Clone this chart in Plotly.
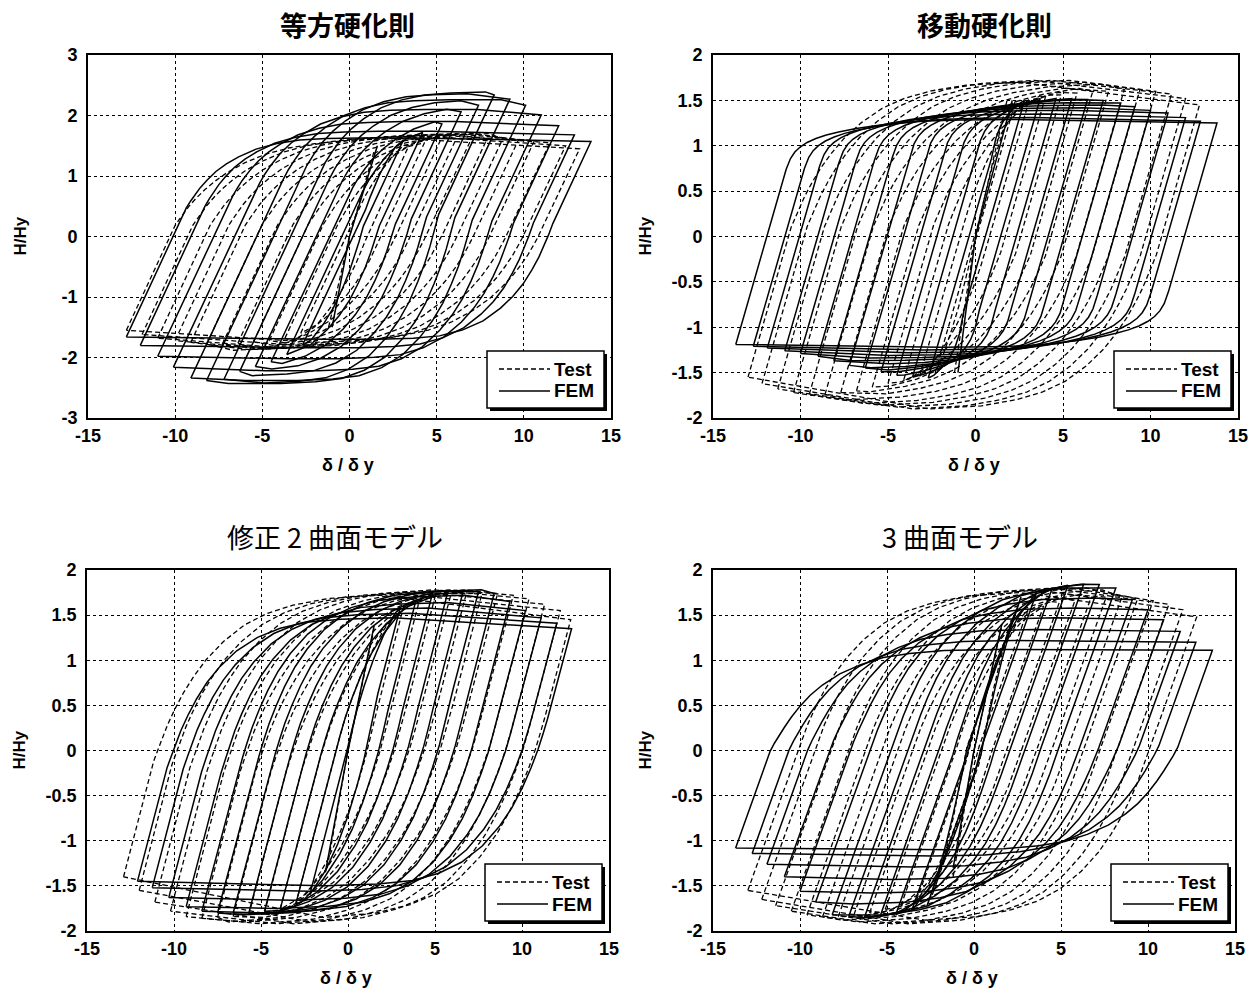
import numpy as np
import plotly.graph_objects as go

W, H = 1257, 995

# ---------------- data ----------------
# branch template: distance (δ/δy) measured from the end of the elastic part
BRANCH_D = [0, 0.25, 0.5, 0.8, 1.2, 1.7, 2.3, 3.0, 4.0, 5.2, 6.5, 8.0, 10.0, 13.0, 40.0]
# fraction of the rise toward the plateau force reached at those distances
F_ISO_FEM = [0, 0.10, 0.19, 0.29, 0.40, 0.52, 0.63, 0.73, 0.84, 0.92, 0.97, 0.99, 1, 1, 1]
F_KIN_FEM = [0, 0.22, 0.35, 0.45, 0.54, 0.62, 0.69, 0.75, 0.82, 0.88, 0.93, 0.97, 0.99, 1, 1]
F_2S_FEM = [0, 0.08, 0.16, 0.25, 0.35, 0.46, 0.57, 0.67, 0.78, 0.87, 0.93, 0.97, 0.99, 1, 1]
F_3S_FEM = [0, 0.08, 0.15, 0.23, 0.33, 0.44, 0.55, 0.65, 0.76, 0.85, 0.92, 0.96, 0.99, 1, 1]
F_TEST = [0, 0.07, 0.14, 0.22, 0.31, 0.41, 0.51, 0.61, 0.72, 0.82, 0.89, 0.94, 0.98, 1, 1]

# ---- 等方硬化則 ----
ISO_FEM_XL = [-12.8, -12.0, -11.0, -10.1, -9.1, -8.2, -7.2, -6.3, -5.4, -4.5, -3.6, -2.7]
ISO_FEM_HL = [-1.66, -1.80, -1.98, -2.16, -2.34, -2.38, -2.36, -2.23, -2.15, -2.07, -1.95, -1.80]
ISO_FEM_XR = [13.85, 12.9, 12.0, 11.0, 10.1, 9.2, 8.3, 7.4, 6.4, 5.3, 4.2, 3.1]
ISO_FEM_HR = [1.57, 1.68, 1.83, 2.01, 2.17, 2.27, 2.34, 2.17, 2.06, 1.86, 1.72, 1.60]
ISO_FEM_PU = [1.63, 1.74, 1.90, 2.10, 2.26, 2.36, 2.39, 2.25, 2.12, 1.92, 1.78, 1.65]
ISO_FEM_PL = [-1.70, -1.84, -2.02, -2.22, -2.38, -2.43, -2.42, -2.30, -2.20, -2.12, -2.00, -1.85]
ISO_FEM_VX = [-1.0, 0.0, 1.6]
ISO_FEM_VH = [-1.5, 0.0, 1.5]

ISO_TEST_XL = [-12.8, -11.9, -11.0, -10.0, -9.1, -8.2, -7.3, -6.4, -5.5, -4.6, -3.7, -2.8]
ISO_TEST_HL = [-1.55, -1.62, -1.68, -1.72, -1.75, -1.78, -1.78, -1.76, -1.74, -1.72, -1.68, -1.60]
ISO_TEST_XR = [13.2, 12.4, 11.5, 10.6, 9.7, 8.8, 7.9, 7.0, 6.1, 5.2, 4.3, 3.4]
ISO_TEST_HR = [1.45, 1.50, 1.55, 1.58, 1.60, 1.62, 1.62, 1.62, 1.60, 1.58, 1.55, 1.50]
ISO_TEST_PU = [1.62, 1.66, 1.68, 1.70, 1.70, 1.70, 1.70, 1.69, 1.68, 1.66, 1.63, 1.58]
ISO_TEST_PL = [-1.75, -1.80, -1.84, -1.86, -1.87, -1.88, -1.88, -1.87, -1.85, -1.82, -1.78, -1.72]
ISO_TEST_VX = [-1.2, 0.0, 1.4]
ISO_TEST_VH = [-1.5, 0.0, 1.4]

# ---- 移動硬化則 ----
KIN_FEM_XL = [-13.7, -12.7, -11.9, -10.9, -10.0, -9.0, -8.1, -7.2, -6.3, -5.4, -4.5, -3.6, -2.7]
KIN_FEM_HL = [-1.19, -1.21, -1.23, -1.26, -1.29, -1.32, -1.37, -1.42, -1.45, -1.49, -1.53, -1.55, -1.56]
KIN_FEM_XR = [13.8, 12.85, 12.0, 11.0, 10.0, 9.1, 8.3, 7.3, 6.4, 5.5, 4.6, 3.7, 2.8]
KIN_FEM_HR = [1.25, 1.27, 1.31, 1.36, 1.39, 1.43, 1.47, 1.50, 1.51, 1.52, 1.52, 1.52, 1.50]
KIN_FEM_PU = [1.29, 1.31, 1.35, 1.39, 1.42, 1.45, 1.48, 1.51, 1.52, 1.52, 1.52, 1.52, 1.50]
KIN_FEM_PL = [-1.22, -1.25, -1.28, -1.31, -1.34, -1.37, -1.41, -1.45, -1.48, -1.51, -1.54, -1.56, -1.57]
KIN_FEM_VX = [-1.0, 0.0, 2.1]
KIN_FEM_VH = [-1.5, 0.0, 1.5]

KIN_TEST_XL = [-13.0, -12.2, -11.3, -10.4, -9.5, -8.6, -7.7, -6.8, -5.9, -5.0, -4.1, -3.2, -2.3]
KIN_TEST_HL = [-1.55, -1.62, -1.68, -1.72, -1.74, -1.74, -1.72, -1.70, -1.66, -1.62, -1.58, -1.54, -1.50]
KIN_TEST_XR = [12.8, 12.0, 11.2, 10.3, 9.4, 8.5, 7.6, 6.7, 5.8, 4.9, 4.0, 3.1, 2.3]
KIN_TEST_HR = [1.45, 1.52, 1.57, 1.60, 1.62, 1.62, 1.60, 1.60, 1.58, 1.56, 1.54, 1.52, 1.50]
KIN_TEST_PU = [1.70, 1.72, 1.72, 1.72, 1.70, 1.68, 1.66, 1.64, 1.62, 1.60, 1.58, 1.56, 1.52]
KIN_TEST_PL = [-1.90, -1.90, -1.88, -1.86, -1.84, -1.80, -1.76, -1.72, -1.68, -1.64, -1.60, -1.56, -1.52]
KIN_TEST_VX = [-1.2, 0.0, 1.8]
KIN_TEST_VH = [-1.5, 0.0, 1.5]

# ---- 修正2曲面モデル ----
S2_FEM_XL = [-12.1, -11.25, -10.3, -9.3, -8.4, -7.5, -6.6, -5.7, -4.8, -3.9, -3.0, -2.2]
S2_FEM_HL = [-1.45, -1.52, -1.63, -1.73, -1.78, -1.80, -1.80, -1.80, -1.78, -1.76, -1.70, -1.60]
S2_FEM_XR = [12.85, 12.0, 11.1, 10.2, 9.3, 8.4, 7.5, 6.6, 5.7, 4.8, 3.9, 3.0]
S2_FEM_HR = [1.35, 1.41, 1.47, 1.55, 1.65, 1.74, 1.76, 1.75, 1.73, 1.70, 1.66, 1.58]
S2_FEM_PU = [1.47, 1.52, 1.58, 1.64, 1.72, 1.78, 1.78, 1.77, 1.75, 1.72, 1.68, 1.60]
S2_FEM_PL = [-1.50, -1.56, -1.66, -1.75, -1.80, -1.82, -1.82, -1.82, -1.80, -1.78, -1.72, -1.62]
S2_FEM_VX = [-1.3, 0.0, 1.5]
S2_FEM_VH = [-1.35, 0.0, 1.38]

S2_TEST_XL = [-12.9, -12.0, -11.1, -10.2, -9.3, -8.4, -7.5, -6.6, -5.7, -4.8, -3.9, -3.0]
S2_TEST_HL = [-1.40, -1.55, -1.68, -1.78, -1.84, -1.86, -1.85, -1.84, -1.82, -1.80, -1.76, -1.70]
S2_TEST_XR = [12.8, 12.2, 11.3, 10.4, 9.5, 8.6, 7.7, 6.8, 5.9, 5.0, 4.1, 3.2]
S2_TEST_HR = [1.45, 1.55, 1.62, 1.68, 1.72, 1.74, 1.74, 1.74, 1.72, 1.70, 1.66, 1.60]
S2_TEST_PU = [1.72, 1.74, 1.76, 1.78, 1.78, 1.78, 1.78, 1.77, 1.76, 1.74, 1.70, 1.64]
S2_TEST_PL = [-1.85, -1.90, -1.92, -1.92, -1.92, -1.90, -1.90, -1.88, -1.86, -1.84, -1.80, -1.74]
S2_TEST_VX = [-1.2, 0.0, 1.5]
S2_TEST_VH = [-1.3, 0.0, 1.35]

# ---- 3曲面モデル ----
S3_FEM_XL = [-13.7, -12.75, -11.9, -10.9, -10.0, -9.1, -8.15, -7.2, -6.3, -5.4, -4.5, -3.6, -2.7]
S3_FEM_HL = [-1.08, -1.14, -1.26, -1.40, -1.56, -1.68, -1.82, -1.84, -1.85, -1.84, -1.82, -1.78, -1.72]
S3_FEM_XR = [13.7, 12.75, 11.85, 10.9, 10.0, 9.1, 8.15, 7.2, 6.3, 5.4, 4.5, 3.6, 2.7]
S3_FEM_HR = [1.11, 1.20, 1.32, 1.45, 1.56, 1.67, 1.80, 1.84, 1.84, 1.83, 1.80, 1.75, 1.70]
S3_FEM_PU = [1.12, 1.22, 1.34, 1.47, 1.58, 1.69, 1.82, 1.85, 1.85, 1.84, 1.81, 1.76, 1.70]
S3_FEM_PL = [-1.10, -1.17, -1.29, -1.43, -1.58, -1.70, -1.84, -1.86, -1.86, -1.85, -1.83, -1.79, -1.73]
S3_FEM_VX = [-1.2, 0.0, 1.6]
S3_FEM_VH = [-1.3, 0.0, 1.4]

S3_TEST_XL = [-13.0, -12.2, -11.4, -10.5, -9.6, -8.7, -7.8, -6.9, -6.0, -5.1, -4.2, -3.3, -2.4]
S3_TEST_HL = [-1.55, -1.65, -1.72, -1.78, -1.82, -1.84, -1.84, -1.82, -1.80, -1.76, -1.72, -1.66, -1.60]
S3_TEST_XR = [12.8, 12.0, 11.2, 10.3, 9.4, 8.5, 7.6, 6.7, 5.8, 4.9, 4.0, 3.1, 2.3]
S3_TEST_HR = [1.48, 1.56, 1.62, 1.66, 1.68, 1.70, 1.70, 1.68, 1.66, 1.64, 1.60, 1.56, 1.50]
S3_TEST_PU = [1.75, 1.78, 1.80, 1.80, 1.80, 1.78, 1.76, 1.74, 1.72, 1.69, 1.65, 1.60, 1.54]
S3_TEST_PL = [-1.88, -1.92, -1.92, -1.92, -1.90, -1.88, -1.86, -1.84, -1.82, -1.78, -1.74, -1.68, -1.62]
S3_TEST_VX = [-1.2, 0.0, 1.6]
S3_TEST_VH = [-1.4, 0.0, 1.4]

# elastic (unloading) stiffness and elastic share of each reversal (loading up, loading down)
ELASTIC_K = {"iso": 0.62, "kin": 0.67, "s2": 0.74, "s3": 0.54}
ELASTIC_E_FEM = {"iso": (0.66, 0.42), "kin": (0.79, 0.76), "s2": (0.45, 0.30), "s3": (0.49, 0.49)}
ELASTIC_E_TEST = {"iso": (0.58, 0.45), "kin": (0.55, 0.55), "s2": (0.45, 0.32), "s3": (0.47, 0.47)}

TITLES = ["等方硬化則", "移動硬化則", "修正 2 曲面モデル", "3 曲面モデル"]
X_TICKS = [-15, -10, -5, 0, 5, 10, 15]
X_TICKTEXT = ["-15", "-10", "-5", "0", "5", "10", "15"]
Y_TICKS_ISO = [-3, -2, -1, 0, 1, 2, 3]
Y_TICKTEXT_ISO = ["-3", "-2", "-1", "0", "1", "2", "3"]
Y_TICKS = [-2, -1.5, -1, -0.5, 0, 0.5, 1, 1.5, 2]
Y_TICKTEXT = ["-2", "-1.5", "-1", "-0.5", "0", "0.5", "1", "1.5", "2"]

# ---------------- geometry helpers ----------------
def branch(x0, h0, x1, h1, plateau, K, E, F):
    s = 1 if x1 > x0 else -1
    hk = h0 + E * (h1 - h0)
    xk = x0 + (hk - h0) / K
    L = s * (x1 - xk)
    if L <= 0.05:
        return [x1], [h1]
    xs, hs = [xk], [hk]
    fend = float(np.interp(L, BRANCH_D, F))
    for d, f in zip(BRANCH_D[1:], F[1:]):
        if d >= L * 0.97:
            break
        xs.append(xk + s * d)
        hs.append(hk + (plateau - hk) * f / fend)
    xs.append(x1)
    hs.append(h1)
    return xs, hs


def loops(XL, HL, XR, HR, PU, PL, VX, VH, K, E, F):
    X, Y = list(VX) + [None], list(VH) + [None]
    for xl, hl, xr, hr, pu, pl in zip(XL, HL, XR, HR, PU, PL):
        X.append(xl); Y.append(hl)
        a, b = branch(xl, hl, xr, hr, pu, K, E[0], F)
        X += a; Y += b
        a, b = branch(xr, hr, xl, hl, pl, K, E[1], F)
        X += a; Y += b
        X.append(None); Y.append(None)
    return X, Y


PANELS = [
    dict(key="iso", F=F_ISO_FEM,
         fem=(ISO_FEM_XL, ISO_FEM_HL, ISO_FEM_XR, ISO_FEM_HR, ISO_FEM_PU, ISO_FEM_PL, ISO_FEM_VX, ISO_FEM_VH),
         test=(ISO_TEST_XL, ISO_TEST_HL, ISO_TEST_XR, ISO_TEST_HR, ISO_TEST_PU, ISO_TEST_PL, ISO_TEST_VX, ISO_TEST_VH)),
    dict(key="kin", F=F_KIN_FEM,
         fem=(KIN_FEM_XL, KIN_FEM_HL, KIN_FEM_XR, KIN_FEM_HR, KIN_FEM_PU, KIN_FEM_PL, KIN_FEM_VX, KIN_FEM_VH),
         test=(KIN_TEST_XL, KIN_TEST_HL, KIN_TEST_XR, KIN_TEST_HR, KIN_TEST_PU, KIN_TEST_PL, KIN_TEST_VX, KIN_TEST_VH)),
    dict(key="s2", F=F_2S_FEM,
         fem=(S2_FEM_XL, S2_FEM_HL, S2_FEM_XR, S2_FEM_HR, S2_FEM_PU, S2_FEM_PL, S2_FEM_VX, S2_FEM_VH),
         test=(S2_TEST_XL, S2_TEST_HL, S2_TEST_XR, S2_TEST_HR, S2_TEST_PU, S2_TEST_PL, S2_TEST_VX, S2_TEST_VH)),
    dict(key="s3", F=F_3S_FEM,
         fem=(S3_FEM_XL, S3_FEM_HL, S3_FEM_XR, S3_FEM_HR, S3_FEM_PU, S3_FEM_PL, S3_FEM_VX, S3_FEM_VH),
         test=(S3_TEST_XL, S3_TEST_HL, S3_TEST_XR, S3_TEST_HR, S3_TEST_PU, S3_TEST_PL, S3_TEST_VX, S3_TEST_VH)),
]

# plot-area frames in pixels: (left, right, top, bottom)
FRAMES = [(88, 611, 55, 418), (713, 1238, 55, 418), (87, 609, 570, 931), (713, 1235, 570, 931)]
TITLE_POS = [(348, 25), (984, 25), (335, 536), (960, 536)]

NUM_FONT = "Liberation Sans Narrow, Arial Narrow, Liberation Sans, Arial, sans-serif"
CJK_FONT = "Noto Sans CJK JP, Noto Sans CJK SC, sans-serif"


def px(x):
    return x / W


def py(y):
    return 1 - y / H


fig = go.Figure()
layout = dict(width=W, height=H, margin=dict(l=0, r=0, t=0, b=0, autoexpand=False),
              paper_bgcolor="white", plot_bgcolor="white", showlegend=False)
shapes, annotations = [], []

for i, p in enumerate(PANELS):
    k = p["key"]
    ax = "" if i == 0 else str(i + 1)
    tx, ty = loops(*p["test"], ELASTIC_K[k], ELASTIC_E_TEST[k], F_TEST)
    fx, fy = loops(*p["fem"], ELASTIC_K[k], ELASTIC_E_FEM[k], p["F"])
    fig.add_trace(go.Scatter(x=tx, y=ty, mode="lines", name="Test",
                             line=dict(color="black", width=1.3, dash="5px,3px"),
                             xaxis="x" + ax, yaxis="y" + ax))
    fig.add_trace(go.Scatter(x=fx, y=fy, mode="lines", name="FEM",
                             line=dict(color="black", width=1.5),
                             xaxis="x" + ax, yaxis="y" + ax))
    L, R, T, B = FRAMES[i]
    common = dict(showline=True, mirror=True, linecolor="black", linewidth=1.8,
                  showgrid=True, gridcolor="black", gridwidth=1, griddash="dot",
                  zeroline=False, ticks="", automargin=False,
                  tickfont=dict(family=NUM_FONT, size=18, color="black", weight="bold"))
    layout["xaxis" + ax] = dict(common, domain=[px(L), px(R)], range=[-15, 15], ticklabelstandoff=0,
                                tickvals=X_TICKS, ticktext=X_TICKTEXT, anchor="y" + ax)
    if k == "iso":
        yt = dict(range=[-3, 3], tickvals=Y_TICKS_ISO, ticktext=Y_TICKTEXT_ISO)
    else:
        yt = dict(range=[-2, 2], tickvals=Y_TICKS, ticktext=Y_TICKTEXT)
    layout["yaxis" + ax] = dict(common, domain=[py(B), py(T)], anchor="x" + ax, ticklabelstandoff=5, **yt)

    # titles and axis labels
    tx0, ty0 = TITLE_POS[i]
    annotations.append(dict(text=TITLES[i], x=px(tx0), y=py(ty0), xref="paper", yref="paper",
                            showarrow=False, xanchor="center", yanchor="middle",
                            font=dict(family=CJK_FONT, size=27, color="black",
                                      weight="bold" if i < 2 else "normal")))
    annotations.append(dict(text="δ / δ y", x=px((L + R) / 2 - 2), y=py(B + 47), xref="paper", yref="paper",
                            showarrow=False, xanchor="center", yanchor="middle",
                            font=dict(family=NUM_FONT, size=18, color="black", weight="bold")))
    annotations.append(dict(text="H/Hy", x=px(L - 68), y=py((T + B) / 2), xref="paper", yref="paper",
                            showarrow=False, xanchor="center", yanchor="middle", textangle=-90,
                            font=dict(family=NUM_FONT, size=17, color="black", weight="bold")))

    # legend box (with drop shadow) in the lower right corner
    bx0, bx1, by0, by1 = R - 124, R - 7, B - 67, B - 10
    shapes.append(dict(type="rect", xref="paper", yref="paper", x0=px(bx0 + 3), x1=px(bx1 + 3),
                       y0=py(by1 + 3), y1=py(by0 + 3), fillcolor="black", line=dict(width=0), layer="above"))
    shapes.append(dict(type="rect", xref="paper", yref="paper", x0=px(bx0), x1=px(bx1),
                       y0=py(by1), y1=py(by0), fillcolor="white", line=dict(color="black", width=1.5),
                       layer="above"))
    for j, (nm, dash) in enumerate([("Test", "5px,3px"), ("FEM", "solid")]):
        yy = by0 + 18 + 22 * j
        shapes.append(dict(type="line", xref="paper", yref="paper", x0=px(bx0 + 12), x1=px(bx0 + 63),
                           y0=py(yy), y1=py(yy), line=dict(color="black", width=1.4, dash=dash),
                           layer="above"))
        annotations.append(dict(text=nm, x=px(bx0 + 65), y=py(yy), xref="paper", yref="paper",
                                showarrow=False, xanchor="left", yanchor="middle",
                                font=dict(family=NUM_FONT, size=19, color="black", weight="bold")))

layout["shapes"] = shapes
layout["annotations"] = annotations
fig.update_layout(**layout)
fig.write_html("out.html", config={"displayModeBar": False},
               post_script="document.body.style.margin='0px';document.body.style.overflow='hidden';")
